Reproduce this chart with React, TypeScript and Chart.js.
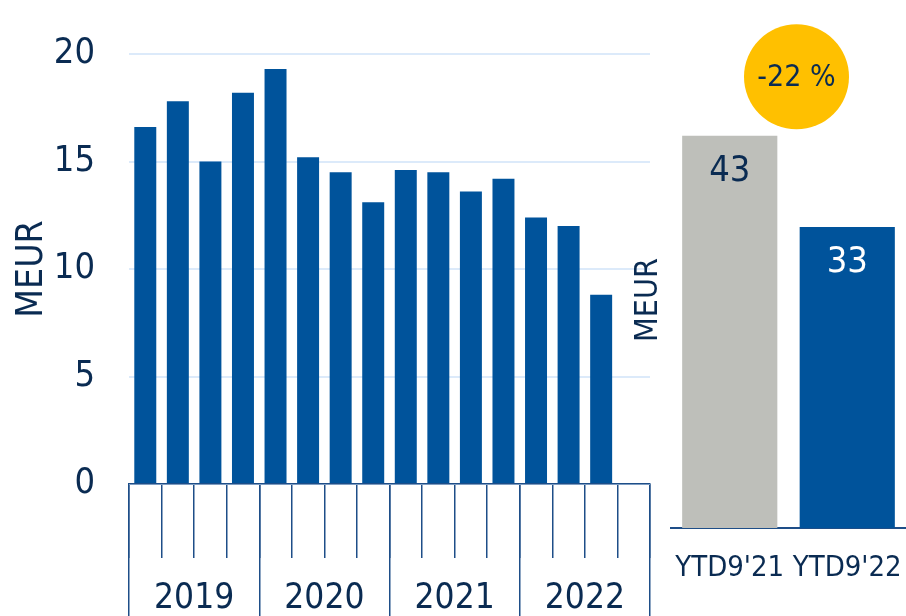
import React, { useEffect, useRef } from 'react';
import { Chart, registerables } from 'chart.js';

Chart.register(...registerables);

// ---- data ----
const quarterLabels = [
  'Q1 2019', 'Q2 2019', 'Q3 2019', 'Q4 2019',
  'Q1 2020', 'Q2 2020', 'Q3 2020', 'Q4 2020',
  'Q1 2021', 'Q2 2021', 'Q3 2021', 'Q4 2021',
  'Q1 2022', 'Q2 2022', 'Q3 2022', 'Q4 2022',
];
const quarterlyValues: (number | null)[] = [
  16.6, 17.8, 15.0, 18.2,
  19.3, 15.2, 14.5, 13.1,
  14.6, 14.5, 13.6, 14.2,
  12.4, 12.0, 8.8, null,
];
const yearLabels = ['2019', '2020', '2021', '2022'];
const leftTickMax = 20;
const leftTickStep = 5;

const ytdLabels = ["YTD9'21", "YTD9'22"];
const ytdValues = [43, 33];
const changeLabel = '-22 %';
const axisTitle = 'MEUR';

// ---- styles ----
const FONT = "'DejaVu Sans Condensed', 'DejaVu Sans', sans-serif";
const BLUE = '#00539B';
const GREY = '#BEBFBA';
const NAVY = '#0A2B52';
const AXIS = '#1E4E88';
const GRID = '#DCEAFA';
const YELLOW = '#FFC000';
const ytdColors = [GREY, BLUE];
const ytdLabelColors = [NAVY, '#FFFFFF'];

const LeftChart: React.FC = () => {
  const ref = useRef<HTMLCanvasElement>(null);
  useEffect(() => {
    if (!ref.current) return;
    const chart = new Chart(ref.current, {
      type: 'bar',
      data: {
        labels: quarterLabels,
        datasets: [
          {
            data: quarterlyValues,
            backgroundColor: BLUE,
            barPercentage: 0.675,
            categoryPercentage: 1,
            xAxisID: 'x',
            yAxisID: 'y',
          },
        ],
      },
      options: {
        animation: false,
        responsive: false,
        maintainAspectRatio: false,
        layout: { padding: { top: 54, right: 10, bottom: 58, left: 0 } },
        plugins: { legend: { display: false }, tooltip: { enabled: false } },
        scales: {
          x: {
            type: 'category',
            position: 'bottom',
            offset: true,
            grid: {
              display: true,
              drawOnChartArea: false,
              offset: true,
              tickLength: 74,
              color: AXIS,
              lineWidth: 1.5,
            },
            border: { display: true, color: AXIS, width: 1.5 },
            ticks: { display: false },
          },
          x2: {
            type: 'category',
            axis: 'x',
            labels: yearLabels,
            position: { y: 0 },
            offset: true,
            grid: {
              display: true,
              drawOnChartArea: false,
              offset: true,
              tickLength: 132,
              color: AXIS,
              lineWidth: 1.5,
            },
            border: { display: false },
            ticks: {
              display: true,
              padding: -34.5,
              autoSkip: false,
              maxRotation: 0,
              color: NAVY,
              font: { family: FONT, size: 35, lineHeight: 1 },
            },
          },
          y: {
            min: 0,
            max: leftTickMax,
            ticks: {
              stepSize: leftTickStep,
              padding: 34,
              color: NAVY,
              font: { family: FONT, size: 36, lineHeight: 1 },
            },
            grid: { color: GRID, lineWidth: 2, drawTicks: false },
            border: { display: false },
            title: {
              display: true,
              text: axisTitle,
              color: NAVY,
              font: { family: FONT, size: 37, lineHeight: 1 },
              padding: { top: 14, bottom: 0 },
            },
            afterFit: (s: any) => {
              s.width = 129;
            },
          },
        },
      } as any,
    });
    return () => chart.destroy();
  }, []);
  return (
    <canvas
      ref={ref}
      width={660}
      height={616}
      style={{ position: 'absolute', left: 0, top: 0, width: 660, height: 616 }}
    />
  );
};

const valueLabelsPlugin = {
  id: 'valueLabels',
  afterDatasetsDraw(chart: any) {
    const meta = chart.getDatasetMeta(0);
    const ctx = chart.ctx;
    ctx.save();
    ctx.font = `36px ${FONT}`;
    ctx.textAlign = 'center';
    ctx.textBaseline = 'middle';
    meta.data.forEach((bar: any, i: number) => {
      ctx.fillStyle = ytdLabelColors[i];
      ctx.fillText(String(ytdValues[i]), bar.x, bar.y + 36);
    });
    ctx.restore();
  },
};

const badgePlugin = {
  id: 'changeBadge',
  afterDraw(chart: any) {
    const meta = chart.getDatasetMeta(0);
    const b0 = meta.data[0];
    const b1 = meta.data[1];
    if (!b0 || !b1) return;
    const cx = (b0.x + b1.x) / 2 + 8;
    const cy = b0.y - 59;
    const ctx = chart.ctx;
    ctx.save();
    ctx.beginPath();
    ctx.arc(cx, cy, 52.5, 0, Math.PI * 2);
    ctx.fillStyle = YELLOW;
    ctx.fill();
    ctx.font = `30px ${FONT}`;
    ctx.fillStyle = NAVY;
    ctx.textAlign = 'center';
    ctx.textBaseline = 'middle';
    ctx.fillText(changeLabel, cx, cy + 1);
    ctx.restore();
  },
};

const RightChart: React.FC = () => {
  const ref = useRef<HTMLCanvasElement>(null);
  useEffect(() => {
    if (!ref.current) return;
    const chart = new Chart(ref.current, {
      type: 'bar',
      data: {
        labels: ytdLabels,
        datasets: [
          {
            data: ytdValues,
            backgroundColor: ytdColors,
            barPercentage: 0.81,
            categoryPercentage: 1,
          },
        ],
      },
      options: {
        animation: false,
        responsive: false,
        maintainAspectRatio: false,
        layout: { padding: { top: 72, right: 0, bottom: 16, left: 0 } },
        plugins: { legend: { display: false }, tooltip: { enabled: false } },
        scales: {
          x: {
            grid: { display: false },
            border: { display: true, color: AXIS, width: 2 },
            ticks: {
              padding: 17.5,
              autoSkip: false,
              maxRotation: 0,
              color: NAVY,
              font: { family: FONT, size: 29, lineHeight: 1 },
            },
            afterFit: (s: any) => {
              s.paddingLeft = 0;
              s.paddingRight = 0;
            },
          },
          y: {
            min: 0,
            max: 50,
            ticks: { display: false },
            grid: { display: false },
            border: { display: false },
            title: {
              display: true,
              text: axisTitle,
              color: NAVY,
              font: { family: FONT, size: 32, lineHeight: 1 },
              padding: { top: 13, bottom: 0 },
            },
            afterFit: (s: any) => {
              s.width = 51;
            },
          },
        },
      } as any,
      plugins: [valueLabelsPlugin, badgePlugin],
    });
    return () => chart.destroy();
  }, []);
  return (
    <canvas
      ref={ref}
      width={286}
      height={616}
      style={{ position: 'absolute', left: 620, top: 0, width: 286, height: 616 }}
    />
  );
};

export default function App() {
  return (
    <div
      style={{
        position: 'fixed',
        left: 0,
        top: 0,
        width: 906,
        height: 616,
        overflow: 'hidden',
        background: '#FFFFFF',
      }}
    >
      <LeftChart />
      <RightChart />
    </div>
  );
}
